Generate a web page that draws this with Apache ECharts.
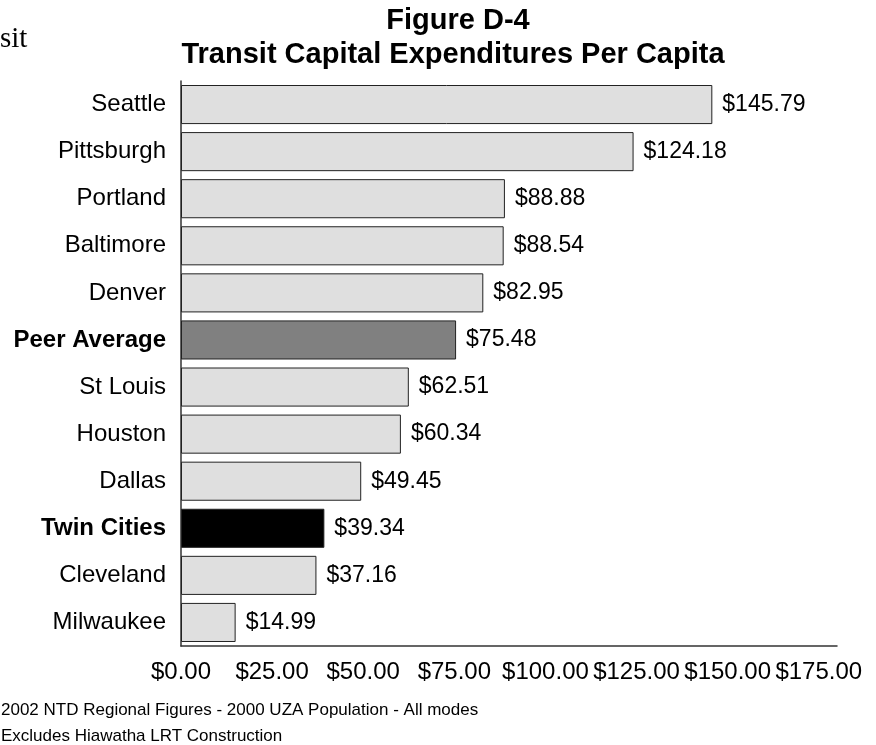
<!DOCTYPE html>
<html>
<head>
<meta charset="utf-8">
<script src="https://cdn.jsdelivr.net/npm/echarts@6/dist/echarts.min.js"></script>
<style>
html,body{margin:0;padding:0;background:#fff;}
#chart{width:876px;height:745px;}
</style>
</head>
<body>
<div id="chart"></div>
<script>
const categories = ["Seattle","Pittsburgh","Portland","Baltimore","Denver","Peer Average","St Louis","Houston","Dallas","Twin Cities","Cleveland","Milwaukee"];
const values = [145.79,124.18,88.88,88.54,82.95,75.48,62.51,60.34,49.45,39.34,37.16,14.99];
const barColors = ["#dfdfdf","#dfdfdf","#dfdfdf","#dfdfdf","#dfdfdf","#808080","#dfdfdf","#dfdfdf","#dfdfdf","#000000","#dfdfdf","#dfdfdf"];
const boldCategories = ["Peer Average","Twin Cities"];
const titleLines = ["Figure D-4","Transit Capital Expenditures Per Capita"];
const footnotes = ["2002 NTD Regional Figures - 2000 UZA Population - All modes","Excludes Hiawatha LRT Construction"];

const FONT = "Liberation Sans, Arial, sans-serif";
const chart = echarts.init(document.getElementById('chart'), null, {renderer:'canvas'});
chart.setOption({
  backgroundColor:'#fff',
  animation:false,
  grid:{left:181,right:39,top:81,bottom:99,containLabel:false},
  xAxis:{
    type:'value',min:0,max:180,interval:25,
    axisLine:{show:true,lineStyle:{color:'#333',width:1.5}},
    axisTick:{show:false},
    splitLine:{show:false},
    axisLabel:{
      margin:14,fontSize:24,color:'#000',fontFamily:FONT,
      formatter:function(v){return (v%25===0)?('$'+v.toFixed(2)):'';}
    }
  },
  yAxis:{
    type:'category',data:categories,inverse:true,
    axisLine:{show:true,lineStyle:{color:'#333',width:1.5}},
    axisTick:{show:false},
    axisLabel:{
      margin:15,fontSize:24,color:'#000',fontFamily:FONT,
      formatter:function(v){return boldCategories.indexOf(v)>=0?('{b|'+v+'}'):v;},
      rich:{b:{fontWeight:'bold',fontSize:24,fontFamily:FONT,color:'#000'}}
    }
  },
  series:[{
    type:'bar',
    barCategoryGap:'17%',
    data:values.map(function(v,i){return {value:v,itemStyle:{color:barColors[i]}};}),
    itemStyle:{borderColor:'#222',borderWidth:1},
    label:{
      show:true,position:'right',distance:10,fontSize:23,color:'#000',fontFamily:FONT,
      formatter:function(p){return '$'+p.value.toFixed(2);}
    }
  }],
  graphic:[
    {type:'text',x:0,y:39,style:{text:'sit',fontSize:29,fontFamily:'Liberation Serif, Times New Roman, serif',fill:'#000',align:'left',verticalAlign:'middle'}},
    {type:'text',x:458,y:21,style:{text:titleLines[0],fontSize:29,fontWeight:'bold',fontFamily:FONT,fill:'#000',align:'center',verticalAlign:'middle'}},
    {type:'text',x:453,y:55,style:{text:titleLines[1],fontSize:29,fontWeight:'bold',fontFamily:FONT,fill:'#000',align:'center',verticalAlign:'middle'}},
    {type:'text',x:1,y:710,style:{text:footnotes[0],fontSize:17,fontFamily:FONT,fill:'#000',align:'left',verticalAlign:'middle'}},
    {type:'text',x:1,y:736,style:{text:footnotes[1],fontSize:17,fontFamily:FONT,fill:'#000',align:'left',verticalAlign:'middle'}}
  ]
});
</script>
</body>
</html>
